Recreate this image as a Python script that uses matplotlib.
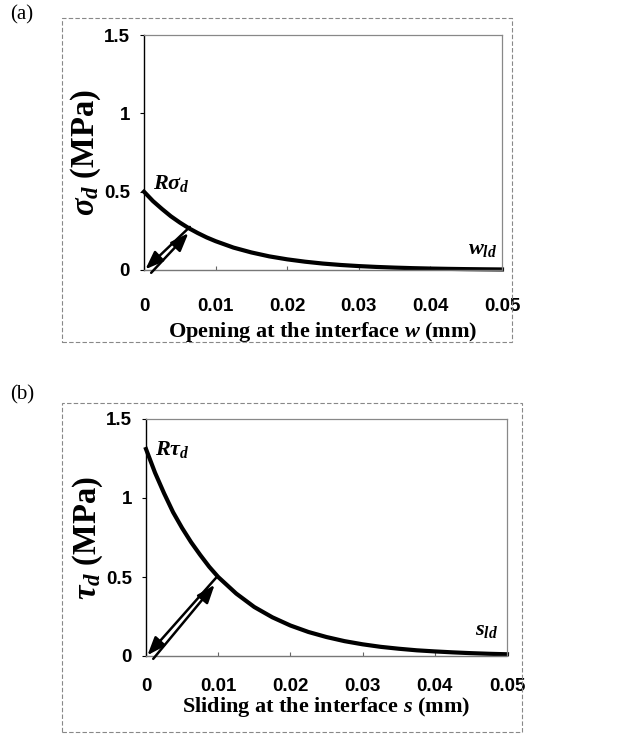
import numpy as np
import matplotlib
matplotlib.use("Agg")
import matplotlib.pyplot as plt
from matplotlib.patches import Rectangle

plt.rcParams['mathtext.fontset'] = 'custom'
plt.rcParams['mathtext.it'] = 'Liberation Serif:italic:bold'
plt.rcParams['mathtext.rm'] = 'Liberation Serif:bold'
plt.rcParams['mathtext.bf'] = 'Liberation Serif:bold'

# opening / sliding at the interface (mm)
disp = [0, 0.00125, 0.0025, 0.00375, 0.005, 0.00625, 0.0075, 0.00875, 0.01,
        0.0125, 0.015, 0.0175, 0.02, 0.0225, 0.025, 0.0275, 0.03, 0.0325,
        0.035, 0.0375, 0.04, 0.0425, 0.045, 0.0475, 0.05]
# normal stress sigma_d (MPa), panel (a)
sigma_d = [0.50, 0.44, 0.39, 0.343, 0.303, 0.267, 0.236, 0.208, 0.184,
           0.143, 0.112, 0.087, 0.068, 0.053, 0.041, 0.032, 0.025, 0.0195,
           0.0152, 0.0118, 0.0092, 0.0072, 0.0056, 0.0044, 0.0034]
# shear stress tau_d (MPa), panel (b)
tau_d = [1.31, 1.16, 1.03, 0.91, 0.81, 0.72, 0.64, 0.565, 0.50,
         0.395, 0.31, 0.245, 0.193, 0.152, 0.12, 0.094, 0.074, 0.058,
         0.046, 0.036, 0.029, 0.023, 0.018, 0.014, 0.011]

xticks = [0, 0.01, 0.02, 0.03, 0.04, 0.05]
xticklabels = ["0", "0.01", "0.02", "0.03", "0.04", "0.05"]
yticks = [0, 0.5, 1, 1.5]
yticklabels = ["0", "0.5", "1", "1.5"]

W, H = 618, 738
fig = plt.figure(figsize=(W / 100, H / 100), dpi=100)


def px_axes(x0, y0, x1, y1):
    return fig.add_axes([x0 / W, 1 - y1 / H, (x1 - x0) / W, (y1 - y0) / H])


def px_box(x0, y0, x1, y1):
    fig.patches.append(Rectangle((x0 / W, 1 - y1 / H), (x1 - x0) / W, (y1 - y0) / H,
                                 transform=fig.transFigure, fill=False,
                                 edgecolor="#888888", lw=0.8, ls=(0, (4, 2))))


def setup(ax, ylab, xlab, tpad, xpad):
    ax.set_xlim(0, 0.05)
    ax.set_ylim(0, 1.5)
    ax.set_xticks(xticks)
    ax.set_xticklabels(xticklabels)
    ax.set_yticks(yticks)
    ax.set_yticklabels(yticklabels)
    for lab in ax.get_xticklabels() + ax.get_yticklabels():
        lab.set_fontfamily("Liberation Sans")
        lab.set_fontweight("bold")
        lab.set_fontsize(13.5)
    ax.tick_params(axis="x", direction="in", length=3, pad=tpad, color="#666666")
    ax.tick_params(axis="y", direction="out", length=3, pad=7)
    ax.spines["left"].set_color("black")
    ax.spines["left"].set_linewidth(1.0)
    ax.spines["bottom"].set_color("#777777")
    ax.spines["bottom"].set_linestyle((0, (3, 1)))
    ax.spines["bottom"].set_linewidth(1.0)
    for s in ("top", "right"):
        ax.spines[s].set_color("#888888")
        ax.spines[s].set_linewidth(0.9)
    ax.spines["top"].set_linestyle((0, (4, 1)))
    ax.set_ylabel(ylab, fontsize=23.5, fontfamily="Liberation Serif",
                  fontweight="bold", labelpad=1)
    ax.set_xlabel(xlab, fontsize=16, fontfamily="Liberation Serif",
                  fontweight="bold", labelpad=xpad)


def double_arrow(ax, p0, p1, q0, q1):
    style = "-|>,head_width=0.38,head_length=1.0"
    ax.annotate("", xy=p0, xytext=p1, annotation_clip=False,
                arrowprops=dict(arrowstyle=style, lw=1.8, color="black",
                                mutation_scale=11, shrinkA=0, shrinkB=0))
    ax.annotate("", xy=q1, xytext=q0, annotation_clip=False,
                arrowprops=dict(arrowstyle=style, lw=1.8, color="black",
                                mutation_scale=11, shrinkA=0, shrinkB=0))


# (a)
ax1 = px_axes(144, 35, 502, 270)
ax1.plot(disp, sigma_d, color="black", lw=3, clip_on=False,
         solid_joinstyle="round")
setup(ax1, r"$\sigma_d$ (MPa)", r"Opening at the interface $w$ (mm)", 20, 4)
double_arrow(ax1, (0.0002, 0.005), (0.0064, 0.275), (0.0010, -0.018), (0.0062, 0.235))
ax1.text(0.0013, 0.52, r"$R\sigma_d$", fontsize=16)
ax1.text(0.0453, 0.1, r"$w_{ld}$", fontsize=16)
px_box(62, 18, 512, 342)
fig.text(10 / W, 1 - 15 / H, "(a)", fontsize=15, fontfamily="Liberation Serif",
         va="center")

# (b)
ax2 = px_axes(146, 419, 507, 656)
ax2.plot(disp, tau_d, color="black", lw=3, clip_on=False,
         solid_joinstyle="round")
setup(ax2, r"$\tau_d$ (MPa)", r"Sliding at the interface $s$ (mm)", 16, 0)
double_arrow(ax2, (0.0002, 0.005), (0.0098, 0.5), (0.0010, -0.018), (0.0095, 0.45))
ax2.text(0.0013, 1.27, r"$R\tau_d$", fontsize=16)
ax2.text(0.0455, 0.13, r"$s_{ld}$", fontsize=16)
px_box(62, 403, 522, 732)
fig.text(10 / W, 1 - 395 / H, "(b)", fontsize=15, fontfamily="Liberation Serif",
         va="center")

fig.savefig("out.png", dpi=100, facecolor="white")
